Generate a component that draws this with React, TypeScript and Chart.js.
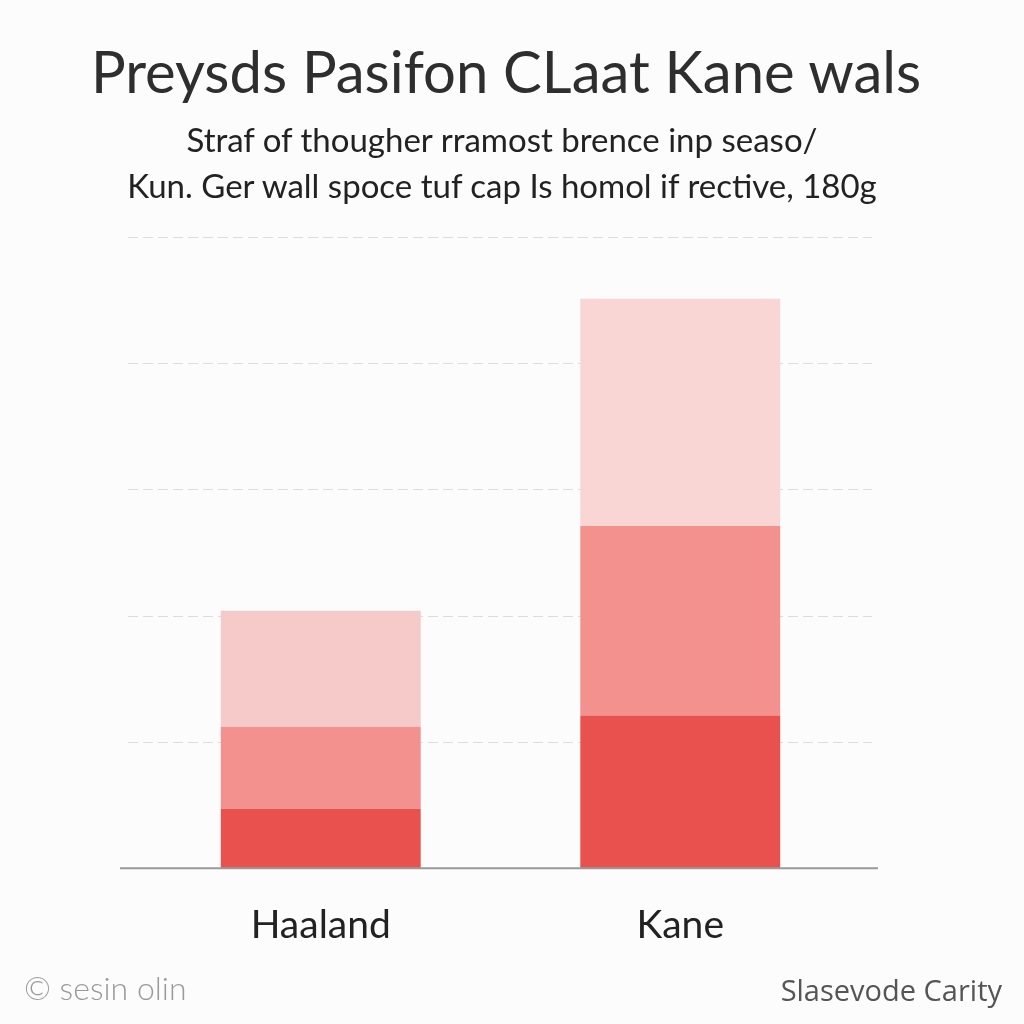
import React, { useEffect, useRef } from "react";
import { Chart, registerables } from "chart.js";

Chart.register(...registerables);

const categories = ["Haaland", "Kane"];
const seriesNames = ["Segment A", "Segment B", "Segment C"];
const bottomValues = [4.7, 12.1];
const middleValues = [6.5, 15.0];
const topValues = [9.2, 18.0];
const gridValues = [10, 20, 30, 40, 50];

const titleText = "Preysds Pasifon CLaat Kane wals";
const subtitleLines = [
  "Straf of thougher rramost brence inp seaso/",
  "Kun. Ger wall spoce tuf cap Is homol if rective, 180g",
];
const footerLeft = "© sesin olin";
const footerRight = "Slasevode Carity";

const gridPlugin = {
  id: "extendedGrid",
  beforeDatasetsDraw(chart: any) {
    const { ctx, chartArea, scales } = chart;
    const y = scales.y;
    ctx.save();
    ctx.strokeStyle = "#dcdcdc";
    ctx.lineWidth = 1;
    ctx.setLineDash([10, 5]);
    gridValues.forEach((v) => {
      const py = Math.round(y.getPixelForValue(v)) + 0.5;
      ctx.beginPath();
      ctx.moveTo(chartArea.left - 13, py);
      ctx.lineTo(chartArea.right + 12, py);
      ctx.stroke();
    });
    ctx.restore();
  },
  afterDatasetsDraw(chart: any) {
    const { ctx, chartArea, scales } = chart;
    const py = scales.y.getPixelForValue(0);
    ctx.save();
    ctx.strokeStyle = "#9a9a9a";
    ctx.lineWidth = 2;
    ctx.beginPath();
    ctx.moveTo(chartArea.left - 21, py);
    ctx.lineTo(chartArea.right + 18, py);
    ctx.stroke();
    ctx.restore();
  },
};

export default function App() {
  const ref = useRef<HTMLCanvasElement>(null);
  useEffect(() => {
    document.body.style.margin = "0";
    document.body.style.background = "#fcfcfc";
    const chart = new Chart(ref.current!, {
      type: "bar",
      data: {
        labels: categories,
        datasets: [
          { label: seriesNames[0], data: bottomValues, backgroundColor: "#e9514e" },
          { label: seriesNames[1], data: middleValues, backgroundColor: "#f3918e" },
          { label: seriesNames[2], data: topValues, backgroundColor: ["#f7caca", "#f9d5d4"] },
        ],
      },
      options: {
        animation: false,
        responsive: false,
        maintainAspectRatio: false,
        layout: { padding: { top: 237, left: 141, right: 164, bottom: 41 } },
        datasets: { bar: { categoryPercentage: 1, barPercentage: 0.556, borderWidth: 0 } },
        plugins: { legend: { display: false }, tooltip: { enabled: false }, title: { display: false } },
        scales: {
          x: {
            stacked: true,
            grid: { display: false, drawTicks: false },
            border: { display: false },
            ticks: { color: "#222", padding: 34, font: { family: "Lato", size: 39 } },
          },
          y: {
            stacked: true,
            display: false,
            min: 0,
            max: 50,
          },
        },
      },
      plugins: [gridPlugin],
    });
    return () => chart.destroy();
  }, []);

  return (
    <div style={{ position: "relative", width: 1024, height: 1024, background: "#fcfcfc", fontFamily: "Lato" }}>
      <canvas ref={ref} width={1024} height={1024} style={{ position: "absolute", left: 0, top: 0 }} />
      <div style={{ position: "absolute", top: 36, left: 0, width: 1012, textAlign: "center", fontSize: 58, color: "#2e2e2e", lineHeight: "70px", whiteSpace: "nowrap" }}>
        {titleText}
      </div>
      <div style={{ position: "absolute", top: 116, left: 0, width: 1004, textAlign: "center", fontSize: 33, color: "#222", lineHeight: "46px", whiteSpace: "nowrap" }}>
        {subtitleLines.map((l, i) => (
          <div key={i}>{l}</div>
        ))}
      </div>
      <div style={{ position: "absolute", top: 968, left: 24, fontSize: 32, color: "#9a9a9a", fontWeight: 300 }}>{footerLeft}</div>
      <div style={{ position: "absolute", top: 970, right: 22, fontSize: 29, color: "#555", fontFamily: "Open Sans" }}>{footerRight}</div>
    </div>
  );
}
